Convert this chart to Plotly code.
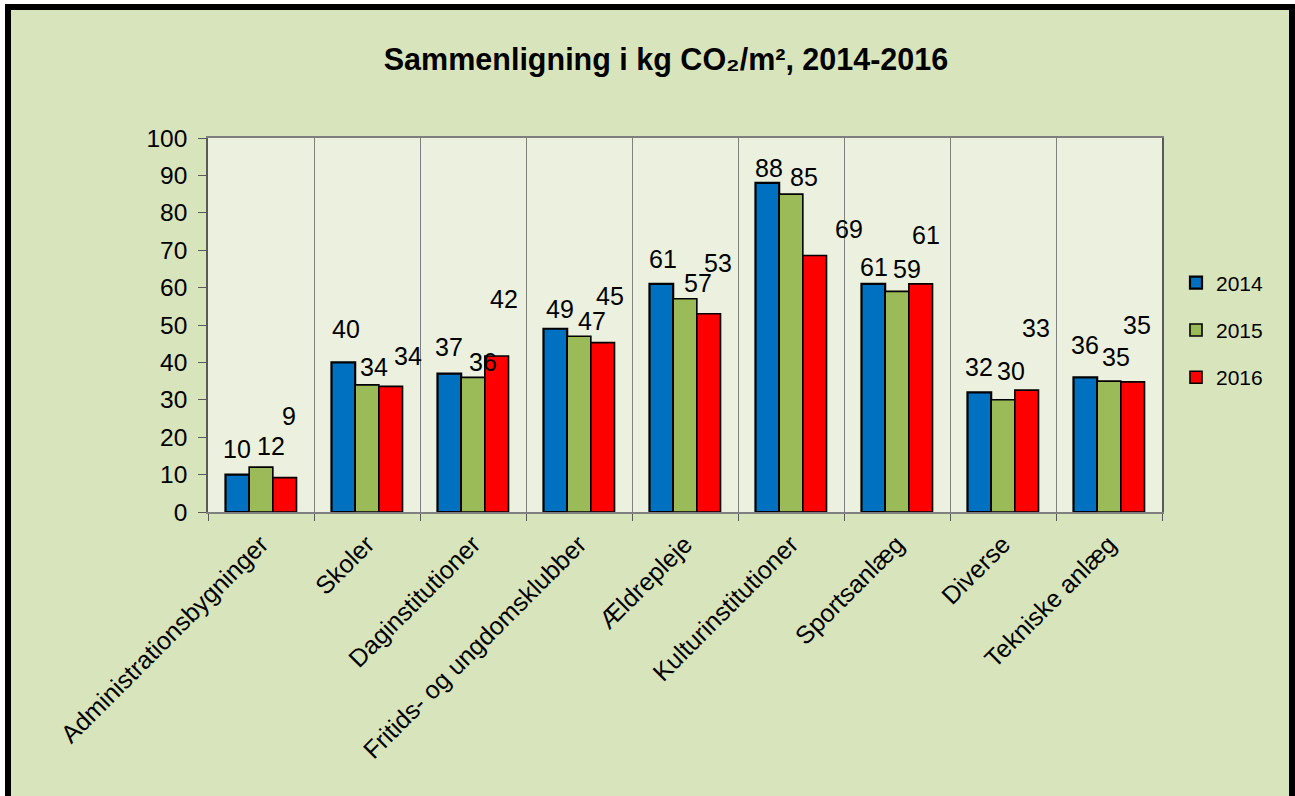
import plotly.graph_objects as go

categories = ["Administrationsbygninger", "Skoler", "Daginstitutioner",
              "Fritids- og ungdomsklubber", "Ældrepleje", "Kulturinstitutioner",
              "Sportsanlæg", "Diverse", "Tekniske anlæg"]
years = ["2014", "2015", "2016"]
v2014 = [10, 40, 37, 49, 61, 88, 61, 32, 36]
v2015 = [12, 34, 36, 47, 57, 85, 59, 30, 35]
v2016 = [9.2, 33.6, 41.7, 45.3, 53, 68.6, 61, 32.6, 34.8]

# label placement tweaks (pixels): extra right shift and height of label centre above bar top
lbl_dx = [[0, 3, 0, 5, 2, 2, 1, 0, 0],
          [10, 7, 10, 13, 13, 13, 10, 8, 7],
          [4, 17, 7, 7, 9, 34, 5, 9, 4]]
lbl_dy = [[26, 33, 27, 20, 25, 15, 17, 25, 32],
          [21, 18, 15, 15, 16, 17, 22, 29, 24],
          [62, 30, 57, 47, 51, 26, 49, 62, 57]]

colors = ["#0070c0", "#9bbb59", "#ff0000"]
outline_w = [2.2, 1.6, 1.6]
FONT = "Arial, Liberation Sans, sans-serif"

W, H = 1295, 796
ML, MR, MT, MB = 208, 133, 138, 284
PW, PH = W - ML - MR, H - MT - MB
BARGAP = 0.33

fig = go.Figure()
series = [v2014, v2015, v2016]
for i, (yr, vals) in enumerate(zip(years, series)):
    fig.add_trace(go.Bar(
        x=categories, y=vals, name=yr, legendgroup=yr,
        marker=dict(color=colors[i], line=dict(color="black", width=outline_w[i])),
    ))

bar_px = PW / len(categories) * (1 - BARGAP) / 3
annotations = []
for i, vals in enumerate(series):
    for j, v in enumerate(vals):
        annotations.append(dict(
            x=categories[j], y=v, xref="x", yref="y",
            text=str(int(round(v))), showarrow=False,
            xanchor="center", yanchor="middle",
            xshift=(i - 1) * bar_px + lbl_dx[i][j], yshift=lbl_dy[i][j],
            font=dict(family=FONT, size=25, color="black"),
        ))


def px_x(p):
    return (p - ML) / PW


def px_y(p):
    return (H - MB - p) / PH


shapes = [
    dict(type="rect", xref="paper", yref="paper", x0=px_x(-20), x1=px_x(5),
         y0=px_y(900), y1=px_y(-20), fillcolor="white", line=dict(width=0), layer="below"),
    dict(type="rect", xref="paper", yref="paper", x0=px_x(-20), x1=px_x(1320),
         y0=px_y(4), y1=px_y(-20), fillcolor="white", line=dict(width=0), layer="below"),
    dict(type="rect", xref="paper", yref="paper", x0=px_x(8), x1=px_x(1292),
         y0=px_y(900), y1=px_y(7), line=dict(color="black", width=6), layer="above"),
]

fig.update_layout(
    width=W, height=H,
    margin=dict(l=ML, r=MR, t=MT, b=MB, pad=0),
    paper_bgcolor="#d8e4bc", plot_bgcolor="#ebf1de",
    barmode="group", bargap=BARGAP, bargroupgap=0,
    font=dict(family=FONT, color="black"),
    title=dict(text="<b>Sammenligning i kg CO₂/m², 2014-2016</b>",
               font=dict(family=FONT, size=30.5, color="black"),
               xref="paper", x=px_x(666), xanchor="center",
               yref="container", y=1 - 59 / H, yanchor="middle"),
    legend=dict(x=px_x(1176), y=px_y(330), xanchor="left", yanchor="middle",
                font=dict(family=FONT, size=21, color="black"),
                bgcolor="rgba(0,0,0,0)", tracegroupgap=17, itemwidth=30),
    annotations=annotations,
    shapes=shapes,
)
fig.update_xaxes(
    tickson="boundaries", showgrid=True, gridcolor="#7f7f7f", gridwidth=1,
    ticks="outside", ticklen=7, tickcolor="#595959",
    showline=True, linecolor="#7f7f7f", linewidth=1.5, mirror=True,
    tickangle=-45, tickfont=dict(family=FONT, size=25, color="black"),
    ticklabelstandoff=6, automargin=False,
)
fig.update_yaxes(
    range=[0, 100], dtick=10, showgrid=False, zeroline=False,
    ticks="outside", ticklen=8, tickcolor="#595959",
    showline=True, linecolor="#595959", linewidth=1.5, mirror=True,
    tickfont=dict(family=FONT, size=24.5, color="black"), automargin=False,
    ticklabelstandoff=6,
)

fig.write_html("out.html", post_script="document.body.style.margin='0';",
               config={"displayModeBar": False})
